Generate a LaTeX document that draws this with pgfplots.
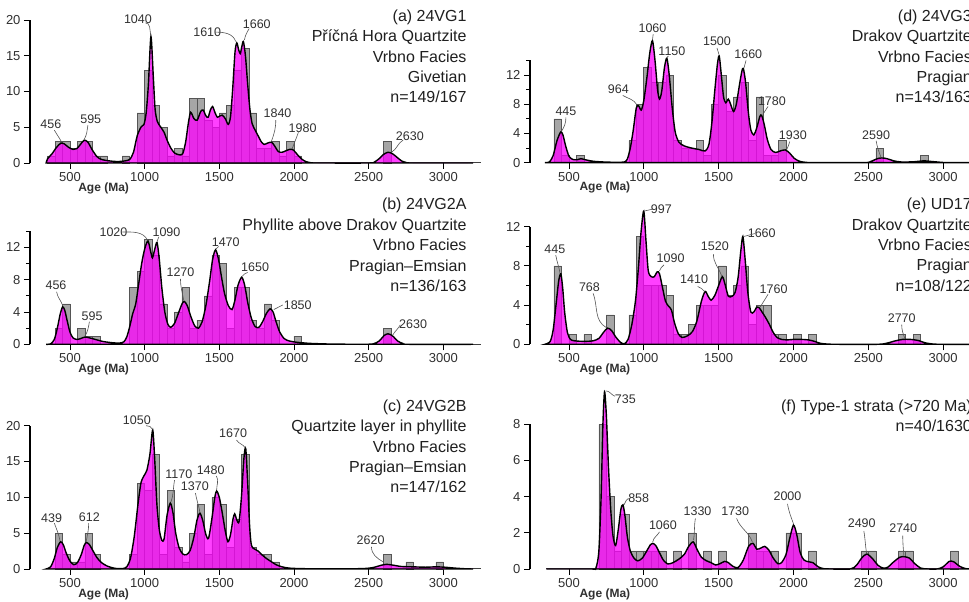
\documentclass[border=0pt]{standalone}
\usepackage{fontspec}
\setmainfont{Liberation Sans}
\usepackage{pgfplots}
\pgfplotsset{compat=1.18}
\definecolor{histgray}{HTML}{A6A6A6}
\definecolor{histedge}{HTML}{555555}
\definecolor{kdemag}{RGB}{255,0,255}
\definecolor{txt}{HTML}{303030}
\definecolor{leadc}{HTML}{555555}

\pgfplotsset{
  dz/.style={
    scale only axis, clip=false, width=450.6pt,
    xmax=3250, ymin=0,
    axis y line*=left, axis x line*=bottom,
    x axis line style={draw=none},
    y axis line style={line width=1.1pt},
    tick align=outside,
    major tick length=6pt, minor tick length=4pt,
    tick style={black, line width=0.8pt},
    xtick={500,1000,...,3000},
    tick label style={font=\fontsize{13}{15}\selectfont, text=txt},
    /pgf/number format/assume math mode=true,
    /pgf/number format/1000 sep={},
  },
  leftcol/.style={dz, xmin=232},
  rightcol/.style={dz, xmin=240},
  bars/.style={ybar, bar width=50, fill=histgray, draw=histedge, line width=0.6pt, mark=none},
  kde/.style={black, line width=1.4pt, fill=kdemag, fill opacity=0.75, smooth, tension=0.45, mark=none},
  base/.style={black!75, line width=1pt, mark=none},
}
\tikzset{
  plab/.style={font=\fontsize{12.5}{14}\selectfont, text=txt, inner sep=1pt},
  lead/.style={leadc, line width=0.6pt},
  ptxt/.style={font=\fontsize{16}{18}\selectfont, text=black!88, inner sep=0pt, anchor=base east},
  agel/.style={font=\bfseries\fontsize{12}{14}\selectfont, text=txt, yshift=-25pt},
}

\begin{document}
\begin{tikzpicture}
\useasboundingbox (0,0) rectangle (969pt,602pt);
\clip (0,0) rectangle (969pt,602pt);

% (a) 24VG1
\begin{axis}[leftcol, at={(30pt,439pt)}, anchor=south west, height=143pt,
  ymax=20, ytick={0,5,...,20}]
\addplot[bars] coordinates {(375,1)(425,3)(475,3)(525,2)(575,3)(625,3)(675,1)(725,1)(875,1)(975,7)(1025,13)(1075,8)(1125,5)(1175,1)(1225,2)(1275,1)(1325,9)(1375,9)(1425,6)(1475,5)(1525,7)(1575,8)(1625,13)(1675,16)(1725,7)(1775,2)(1825,2)(1875,3)(1925,1)(1975,3)(2025,1)(2625,3)};
\addplot[base] coordinates {(350,0)(3250,0)};
\addplot[kde] coordinates {(340,0)(350,0.6)(380,1.3)(410,2.2)(440,2.8)(460,2.7)(490,2.2)(520,1.9)(545,2.0)(570,2.6)(595,3.2)(620,2.9)(650,1.8)(680,0.9)(710,0.5)(760,0.3)(820,0.2)(870,0.3)(900,0.5)(925,1.5)(950,3.8)(975,5.0)(995,5.4)(1010,7)(1025,11)(1042,17.7)(1058,12)(1070,7.5)(1085,5.8)(1105,5.1)(1130,4.3)(1150,3.2)(1175,2.1)(1200,1.4)(1230,1.15)(1255,1.3)(1275,3)(1292,5.5)(1308,7.1)(1330,6.2)(1352,6)(1375,7.2)(1392,7.4)(1410,6.6)(1425,6.4)(1440,7.4)(1455,7.9)(1472,7)(1487,6.4)(1505,6.6)(1520,6.7)(1540,6.2)(1560,5.4)(1575,6.5)(1590,10.5)(1605,15.5)(1617,16.8)(1630,15.8)(1640,15.3)(1650,16.2)(1661,17)(1675,15)(1690,11)(1705,7.5)(1720,5.5)(1740,4.6)(1760,3.8)(1780,3)(1800,2.6)(1825,2.8)(1850,2.9)(1870,2.4)(1895,1.6)(1920,1.5)(1945,1.7)(1970,1.9)(1990,1.9)(2010,1.5)(2030,1.0)(2055,0.5)(2080,0.2)(2110,0.05)(2150,0)(2500,0)(2540,0.15)(2570,0.6)(2600,1.2)(2630,1.5)(2660,1.3)(2690,0.8)(2720,0.3)(2750,0.08)(2790,0)(3200,0)} \closedcycle;
\node[plab] at (372,5.4) {456};   \draw[lead] (395,4.6) to[out=-60,in=120] (445,2.9);
\node[plab] at (639,6.1) {595};   \draw[lead] (620,5.3) to[out=-100,in=60] (595,3.3);
\node[plab] at (955,20.1) {1040}; \draw[lead] (1005,19.6) to[out=0,in=100] (1040,17.9);
\node[plab] at (1419,18.3) {1610}; \draw[lead] (1475,18.3) to[out=0,in=110] (1610,17.0);
\node[plab] at (1751,19.4) {1660}; \draw[lead] (1700,18.8) to[out=-120,in=80] (1668,17.2);
\node[plab] at (1890,6.9) {1840}; \draw[lead] (1878,6.0) to[out=-90,in=70] (1850,3.1);
\node[plab] at (2058,4.9) {1980}; \draw[lead] (2030,4.3) to[out=-110,in=70] (1990,2.1);
\node[plab] at (2776,3.7) {2630}; \draw[lead] (2731,3.2) to[out=-150,in=30] (2653,1.5);
\node[agel] at (725,0) {Age (Ma)};
\end{axis}

% (b) 24VG2A
\begin{axis}[leftcol, at={(30pt,257.7pt)}, anchor=south west, height=113.1pt,
  ymax=14, ytick={0,4,8,12}, minor ytick={2,6,10,14}]
\addplot[bars] coordinates {(425,2)(475,5)(575,2)(625,1)(675,1)(925,7)(975,9)(1025,13)(1075,11)(1125,5)(1175,2)(1225,4)(1275,7)(1325,2)(1375,3)(1425,6)(1475,11)(1525,10)(1575,2)(1625,7)(1675,7)(1725,3)(1775,2)(1825,5)(1875,3)(2025,1)(2625,2)};
\addplot[base] coordinates {(350,0)(3250,0)};
\addplot[kde] coordinates {(340,0)(370,0.05)(395,0.6)(415,2)(435,3.8)(451,4.65)(465,4.2)(480,3)(500,1.5)(520,0.8)(545,0.6)(570,0.7)(600,0.9)(630,0.8)(670,0.6)(720,0.35)(780,0.2)(830,0.15)(860,0.3)(880,0.9)(900,2.2)(920,3.8)(940,5)(960,7.5)(980,10)(1000,11.8)(1022,12.8)(1040,11.5)(1052,10.7)(1068,11.8)(1083,12.6)(1098,10.5)(1115,7)(1135,4)(1155,2.5)(1175,2.1)(1200,2.6)(1225,3.8)(1250,5)(1265,5.3)(1285,4.8)(1310,3.4)(1335,2.3)(1360,2)(1385,2.8)(1410,4.8)(1435,7.8)(1455,10.5)(1475,11.7)(1495,10.5)(1515,8.3)(1535,6.3)(1560,4.8)(1585,4.3)(1605,5.5)(1625,7.3)(1650,8.3)(1670,7.3)(1690,5.2)(1715,3.2)(1740,2.2)(1765,2.1)(1790,2.8)(1815,3.8)(1840,4.4)(1860,4)(1880,2.8)(1905,1.5)(1935,0.7)(1970,0.4)(2020,0.25)(2100,0.12)(2200,0.05)(2300,0.02)(2450,0)(2530,0.05)(2570,0.4)(2605,1.1)(2630,1.3)(2660,1.05)(2695,0.4)(2730,0.1)(2770,0)(3200,0)} \closedcycle;
\node[plab] at (406,7.3) {456};   \draw[lead] (410,6.5) to[out=-80,in=110] (451,4.8);
\node[plab] at (648,3.5) {595};   \draw[lead] (630,2.8) to[out=-100,in=60] (600,1.0);
\node[plab] at (791,13.9) {1020}; \draw[lead] (850,13.9) to[out=0,in=120] (1020,12.9);
\node[plab] at (1146,13.9) {1090}; \draw[lead] (1095,13.3) to[out=-120,in=80] (1082,12.7);
\node[plab] at (1240,8.9) {1270}; \draw[lead] (1240,8.1) to[out=-90,in=100] (1262,5.4);
\node[plab] at (1543,12.6) {1470}; \draw[lead] (1495,12.1) to[out=-150,in=70] (1477,11.8);
\node[plab] at (1740,9.6) {1650}; \draw[lead] (1690,8.9) to[out=-150,in=60] (1652,8.4);
\node[plab] at (2025,4.87) {1850}; \draw[lead] (1925,4.87) -- (1865,4.3);
\node[plab] at (2798,2.5) {2630}; \draw[lead] (2712,2.4) to[out=-120,in=60] (2660,1.1);
\node[agel] at (725,0) {Age (Ma)};
\end{axis}

% (c) 24VG2B
\begin{axis}[leftcol, at={(30pt,33pt)}, anchor=south west, height=143.3pt,
  ymax=20, ytick={0,5,...,20}]
\addplot[bars] coordinates {(425,5)(475,2)(525,1)(575,1)(625,5)(675,2)(925,2)(975,12)(1025,11)(1075,16)(1125,2)(1175,11)(1225,3)(1275,1)(1325,5)(1375,9)(1425,2)(1475,10)(1525,9)(1575,3)(1625,7)(1675,16)(1725,3)(1775,2)(1825,2)(1875,1)(2625,2)(2775,1)(2975,1)};
\addplot[base] coordinates {(350,0)(3250,0)};
\addplot[kde] coordinates {(340,0)(370,0.3)(395,1.5)(415,3)(437,3.8)(455,3.4)(475,2.2)(500,1.1)(525,0.6)(550,0.9)(575,2)(595,3.3)(610,3.7)(630,3.4)(655,2.5)(680,1.6)(710,0.9)(750,0.4)(800,0.1)(850,0.05)(880,0.3)(905,1.5)(930,4.5)(955,9)(975,12)(995,13)(1015,13.8)(1035,16)(1054,19.4)(1068,15)(1082,9)(1098,5.5)(1115,4)(1130,4.2)(1150,7.5)(1172,9.2)(1190,7.8)(1208,5)(1230,3)(1255,2.1)(1280,2)(1305,2.6)(1330,4.5)(1350,6.8)(1370,7.8)(1390,6.7)(1410,4.8)(1428,4.3)(1450,7)(1470,10)(1482,10.9)(1500,10)(1520,7.8)(1540,5.3)(1558,3.8)(1575,4.8)(1592,7)(1603,7.7)(1618,6.8)(1632,6.6)(1648,10)(1665,15.5)(1677,16.8)(1690,12)(1703,6)(1715,3.3)(1735,2.8)(1760,2.5)(1790,1.9)(1820,1.4)(1850,1.0)(1880,0.6)(1920,0.3)(1970,0.12)(2050,0.05)(2200,0.02)(2450,0.05)(2530,0.2)(2580,0.5)(2620,0.65)(2660,0.55)(2720,0.35)(2800,0.3)(2880,0.25)(2950,0.3)(3010,0.25)(3080,0.12)(3150,0.03)(3200,0)} \closedcycle;
\node[plab] at (377,7.1) {439};   \draw[lead] (395,6.4) to[out=-70,in=100] (433,3.9);
\node[plab] at (630,7.2) {612};   \draw[lead] (625,6.4) to[out=-90,in=80] (608,3.8);
\node[plab] at (948,20.7) {1050}; \draw[lead] (1010,20) to[out=0,in=110] (1052,19.5);
\node[plab] at (1229,13.3) {1170}; \draw[lead] (1200,12.4) to[out=-100,in=70] (1175,9.3);
\node[plab] at (1336,11.5) {1370}; \draw[lead] (1340,10.6) to[out=-80,in=100] (1370,7.9);
\node[plab] at (1442,13.8) {1480}; \draw[lead] (1480,13) to[out=-60,in=90] (1482,11);
\node[plab] at (1592,18.9) {1670}; \draw[lead] (1615,18) to[out=-60,in=120] (1674,16.9);
\node[plab] at (2513,4.05) {2620}; \draw[lead] (2519,3.1) to[out=-90,in=150] (2597,1.0);
\node[agel] at (725,0) {Age (Ma)};
\end{axis}

% (d) 24VG3
\begin{axis}[rightcol, at={(530pt,439.3pt)}, anchor=south west, height=102.3pt,
  ymax=14, ytick={0,4,8,12}, minor ytick={2,6,10,14}]
\addplot[bars] coordinates {(425,6)(475,1)(575,1)(925,3)(975,8)(1025,13)(1075,11)(1125,11)(1175,12)(1225,3)(1275,2)(1325,2)(1375,3)(1425,1)(1475,8)(1525,12)(1575,7)(1625,9)(1675,11)(1725,3)(1775,9)(1825,1)(1875,1)(1925,3)(2575,2)(2875,1)};
\addplot[base] coordinates {(350,0)(3250,0)};
\addplot[kde] coordinates {(340,0)(370,0.1)(395,1)(420,3)(445,4.2)(460,3.8)(478,2.3)(500,0.9)(525,0.45)(555,0.4)(580,0.55)(610,0.4)(660,0.2)(730,0.1)(820,0.05)(870,0.1)(890,0.5)(910,2)(930,4.5)(950,7.5)(965,7.8)(983,7.2)(1000,8.5)(1020,11.5)(1040,15)(1058,16.7)(1075,14)(1092,10)(1105,8.7)(1120,9.8)(1138,13)(1154,14.3)(1170,12)(1190,7.5)(1210,4.2)(1235,2.8)(1270,2.3)(1320,2.0)(1370,1.8)(1410,1.6)(1435,2.5)(1455,5.5)(1475,10)(1492,13.5)(1504,14.6)(1518,12)(1533,9)(1548,8.2)(1565,8.7)(1580,8)(1600,7)(1618,8)(1638,10.5)(1655,12.5)(1665,12.9)(1680,11)(1698,7)(1715,4.5)(1735,3.8)(1755,4.8)(1775,6.3)(1787,6.5)(1805,5.2)(1825,3.2)(1850,1.8)(1880,1.4)(1910,1.6)(1945,1.75)(1975,1.3)(2005,0.6)(2040,0.2)(2080,0.05)(2150,0)(2470,0)(2520,0.2)(2560,0.55)(2590,0.65)(2625,0.55)(2670,0.25)(2720,0.1)(2800,0.12)(2870,0.25)(2930,0.15)(3000,0.03)(3050,0)(3250,0)} \closedcycle;
\node[plab] at (480,7.0) {445};   \draw[lead] (480,6.2) to[out=-90,in=60] (451,4.3);
\node[plab] at (830,10.0) {964};  \draw[lead] (860,9.2) to[out=-30,in=120] (955,7.9);
\node[plab] at (1058,18.4) {1060}; \draw[lead] (1063,17.6) -- (1058,16.8);
\node[plab] at (1188,15.3) {1150}; \draw[lead] (1165,14.6) -- (1154,14.4);
\node[plab] at (1489,16.6) {1500}; \draw[lead] (1489,15.7) to[out=-80,in=110] (1504,14.7);
\node[plab] at (1698,14.8) {1660}; \draw[lead] (1683,14) to[out=-100,in=70] (1670,13);
\node[plab] at (1856,8.4) {1780}; \draw[lead] (1830,7.7) to[out=-120,in=60] (1795,6.6);
\node[plab] at (1996,3.8) {1930}; \draw[lead] (1975,2.9) to[out=-110,in=60] (1955,1.8);
\node[plab] at (2552,3.8) {2590}; \draw[lead] (2552,3.0) to[out=-80,in=110] (2585,0.7);
\node[agel] at (740,0) {Age (Ma)};
\end{axis}

% (e) UD17
\begin{axis}[rightcol, at={(530pt,257.7pt)}, anchor=south west, height=117.6pt,
  ymax=12, ytick={0,4,8,12}, minor ytick={2,6,10}]
\addplot[bars] coordinates {(425,8)(525,1)(625,1)(775,3)(925,3)(975,11)(1025,6)(1075,6)(1125,6)(1175,5)(1225,1)(1275,1)(1325,2)(1375,4)(1425,4)(1475,4)(1525,8)(1575,5)(1625,6)(1675,8)(1725,2)(1775,4)(1825,4)(1875,1)(1925,1)(2025,1)(2125,1)(2725,1)(2825,1)};
\addplot[base] coordinates {(350,0)(3250,0)};
\addplot[kde] coordinates {(340,0)(375,0.3)(395,1.5)(415,4.2)(432,6.5)(446,7.2)(458,5.8)(472,3.2)(490,1.2)(510,0.5)(540,0.35)(600,0.3)(660,0.35)(700,0.6)(730,1.2)(758,1.65)(785,1.4)(815,0.7)(845,0.2)(870,0.05)(895,0.5)(920,2)(945,4.5)(965,8)(982,11.5)(1000,13.6)(1015,10.5)(1030,7.5)(1050,6.9)(1070,6.9)(1090,7.4)(1105,7.2)(1125,5.8)(1145,4.4)(1165,3.9)(1185,3.5)(1205,2.2)(1230,1.1)(1255,0.7)(1290,0.85)(1325,1.3)(1355,2.4)(1385,4.4)(1410,5.4)(1430,4.9)(1450,4.5)(1475,5)(1500,6)(1525,6.9)(1545,6)(1565,4.9)(1590,4.9)(1610,5.3)(1630,6.8)(1648,9.5)(1662,11)(1678,8.5)(1695,5.3)(1715,3.3)(1735,3.3)(1755,3.8)(1770,3.75)(1790,3.3)(1815,2.7)(1840,2)(1865,1.2)(1890,0.7)(1920,0.5)(1960,0.45)(2000,0.5)(2050,0.5)(2100,0.45)(2140,0.3)(2180,0.1)(2230,0.02)(2300,0)(2560,0)(2620,0.1)(2680,0.35)(2730,0.5)(2780,0.5)(2830,0.4)(2880,0.15)(2930,0.03)(3000,0)(3250,0)} \closedcycle;
\node[plab] at (406,9.7) {445};   \draw[lead] (412,9.1) to[out=-80,in=100] (440,7.3);
\node[plab] at (637,5.8) {768};   \draw[lead] (662,5.2) to[out=-70,in=150] (750,1.7);
\node[plab] at (1117,13.8) {997}; \draw[lead] (1062,13.8) -- (1004,13.6);
\node[plab] at (1179,8.8) {1090}; \draw[lead] (1135,8.1) to[out=-150,in=60] (1105,7.5);
\node[plab] at (1336,6.6) {1410}; \draw[lead] (1360,5.9) to[out=-30,in=120] (1405,5.4);
\node[plab] at (1475,10.0) {1520}; \draw[lead] (1465,9.2) to[out=-90,in=110] (1520,7.0);
\node[plab] at (1788,11.3) {1660}; \draw[lead] (1742,11.3) -- (1668,11.0);
\node[plab] at (1867,5.6) {1760}; \draw[lead] (1830,5.1) to[out=-120,in=60] (1778,3.8);
\node[plab] at (2723,2.65) {2770}; \draw[lead] (2723,2.0) to[out=-90,in=110] (2745,0.55);
\node[agel] at (740,0) {Age (Ma)};
\end{axis}

% (f) Type-1 strata
\begin{axis}[rightcol, at={(530pt,33pt)}, anchor=south west, height=144.7pt,
  ymax=8, ytick={0,2,...,8}]
\addplot[bars] coordinates {(725,8)(775,4)(825,1)(875,3)(925,1)(975,1)(1025,1)(1075,1)(1125,1)(1225,1)(1325,2)(1425,1)(1525,1)(1725,2)(1775,1)(1825,1)(1875,1)(1975,2)(2025,2)(2125,1)(2475,1)(2525,1)(2725,1)(2775,1)(3075,1)};
\addplot[base] coordinates {(350,0)(3250,0)};
\addplot[kde] coordinates {(350,0)(650,0)(680,0.05)(700,1)(715,4)(727,8)(738,9.8)(750,8.5)(765,5.5)(780,3.2)(795,1.8)(812,1.3)(830,2.2)(847,3.3)(861,3.55)(875,2.9)(890,1.8)(910,1.0)(935,0.6)(960,0.45)(990,0.6)(1020,1.0)(1045,1.35)(1060,1.42)(1080,1.3)(1105,0.9)(1130,0.5)(1160,0.28)(1195,0.35)(1235,0.55)(1270,0.8)(1300,1.25)(1330,1.5)(1355,1.1)(1385,0.65)(1420,0.45)(1450,0.35)(1480,0.22)(1510,0.3)(1540,0.42)(1565,0.35)(1595,0.15)(1630,0.08)(1665,0.5)(1700,1.25)(1729,1.42)(1755,1.1)(1780,1.15)(1808,1.25)(1835,1.05)(1865,0.6)(1895,0.3)(1920,0.35)(1950,0.8)(1975,1.7)(2000,2.43)(2022,1.9)(2045,0.9)(2070,0.5)(2100,0.4)(2130,0.35)(2165,0.12)(2200,0.02)(2250,0)(2380,0)(2420,0.2)(2455,0.6)(2489,0.83)(2525,0.6)(2565,0.2)(2600,0.05)(2630,0.1)(2670,0.4)(2710,0.65)(2740,0.68)(2775,0.6)(2810,0.3)(2850,0.05)(2900,0)(2960,0)(3000,0.12)(3040,0.42)(3070,0.4)(3110,0.15)(3150,0.02)(3200,0)(3250,0)} \closedcycle;
\node[plab] at (877,9.4) {735};   \draw[lead] (808,9.55) to[out=160,in=0] (745,9.85);
\node[plab] at (966,3.9) {858};   \draw[lead] (905,3.9) to[out=180,in=60] (868,3.55);
\node[plab] at (1128,2.43) {1060}; \draw[lead] (1105,2.05) to[out=-120,in=80] (1060,1.5);
\node[plab] at (1359,3.2) {1330}; \draw[lead] (1345,2.8) to[out=-100,in=80] (1332,1.6);
\node[plab] at (1611,3.2) {1730}; \draw[lead] (1620,2.8) to[out=-70,in=110] (1725,1.5);
\node[plab] at (1960,4.04) {2000}; \draw[lead] (1960,3.6) to[out=-80,in=110] (2000,2.5);
\node[plab] at (2456,2.56) {2490}; \draw[lead] (2470,2.1) to[out=-80,in=100] (2489,0.85);
\node[plab] at (2733,2.25) {2740}; \draw[lead] (2730,1.85) to[out=-90,in=95] (2738,0.7);
\node[agel] at (740,0) {Age (Ma)};
\end{axis}

% panel captions
\node[ptxt] at (466.7pt,580.3pt) {(a) 24VG1};
\node[ptxt] at (466.7pt,560.0pt) {Příčná Hora Quartzite};
\node[ptxt] at (466.7pt,539.7pt) {Vrbno Facies};
\node[ptxt] at (466.7pt,519.4pt) {Givetian};
\node[ptxt] at (466.7pt,499.1pt) {n=149/167};

\node[ptxt] at (466.7pt,392pt) {(b) 24VG2A};
\node[ptxt] at (466.7pt,371.5pt) {Phyllite above Drakov Quartzite};
\node[ptxt] at (466.7pt,351pt) {Vrbno Facies};
\node[ptxt] at (466.7pt,330.5pt) {Pragian–Emsian};
\node[ptxt] at (466.7pt,310pt) {n=136/163};

\node[ptxt] at (466.7pt,190.3pt) {(c) 24VG2B};
\node[ptxt] at (466.7pt,170.1pt) {Quartzite layer in phyllite};
\node[ptxt] at (466.7pt,149.8pt) {Vrbno Facies};
\node[ptxt] at (466.7pt,129.5pt) {Pragian–Emsian};
\node[ptxt] at (466.7pt,109.2pt) {n=147/162};

\node[ptxt] at (972pt,580.3pt) {(d) 24VG3};
\node[ptxt] at (972pt,560.0pt) {Drakov Quartzite};
\node[ptxt] at (972pt,539.7pt) {Vrbno Facies};
\node[ptxt] at (972pt,519.4pt) {Pragian};
\node[ptxt] at (972pt,499.1pt) {n=143/163};

\node[ptxt] at (972pt,392pt) {(e) UD17};
\node[ptxt] at (972pt,371.7pt) {Drakov Quartzite};
\node[ptxt] at (972pt,351.4pt) {Vrbno Facies};
\node[ptxt] at (972pt,331.1pt) {Pragian};
\node[ptxt] at (972pt,310.8pt) {n=108/122};

\node[ptxt] at (972pt,190.3pt) {(f) Type-1 strata (>720 Ma)};
\node[ptxt] at (972pt,170.1pt) {n=40/1630};
\end{tikzpicture}
\end{document}
